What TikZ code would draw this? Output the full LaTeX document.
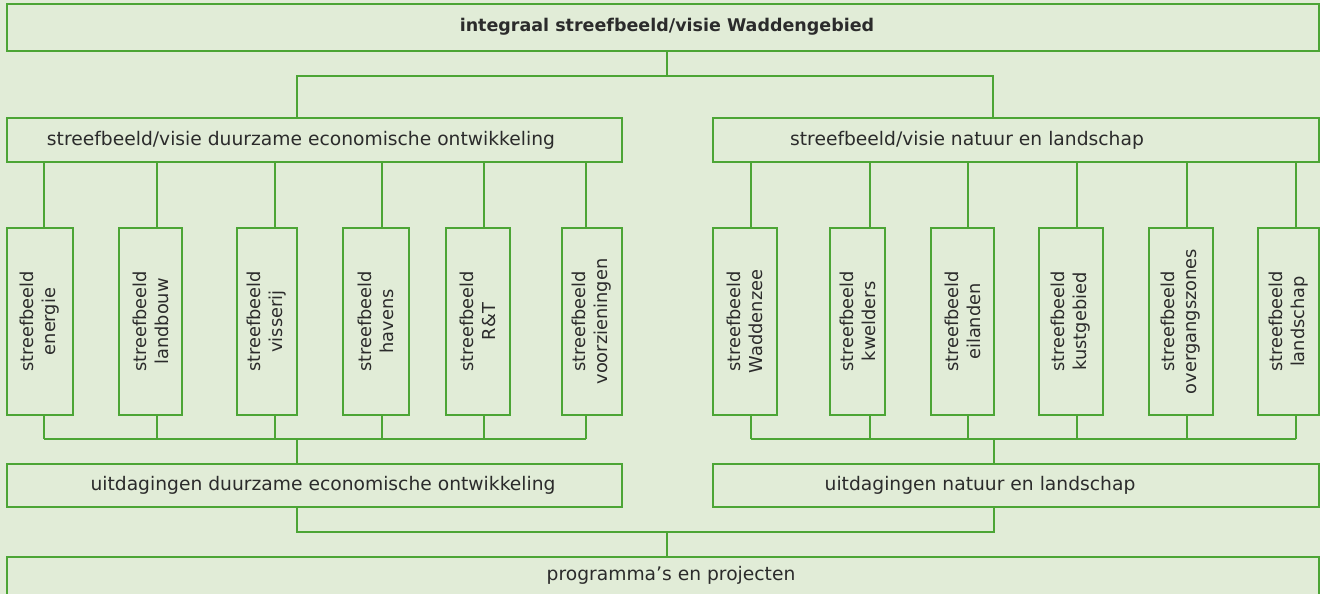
\documentclass[tikz,border=0pt]{standalone}
\usepackage{fontspec}
\setmainfont{DejaVu Sans}
\definecolor{wadgreen}{HTML}{4CA535}
\definecolor{wadbg}{HTML}{E1ECD7}
\definecolor{wadtext}{HTML}{2B2B2B}
\begin{document}
\begin{tikzpicture}[x=1pt,y=-1pt,
	box/.style={draw=wadgreen,line width=2.6pt,inner sep=0pt,outer sep=0pt},
	lbl/.style={text=wadtext,inner sep=0pt,font=\fontsize{18.7}{22.5}\selectfont},
	rot/.style={lbl,rotate=90,align=center,font=\fontsize{17.8}{22}\selectfont},
	conn/.style={wadgreen,line width=2.6pt}]
		%
		\fill[wadbg] (0,0) rectangle (1320,594);
		\useasboundingbox (0,0) rectangle (1320,594);
		%
		\node[box,minimum width=1312pt,minimum height=47pt] (top) at (663,27.5) {};
		\node[box,minimum width=615pt,minimum height=44pt] (eco) at (314.5,140) {};
		\node[box,minimum width=606pt,minimum height=44pt] (nat) at (1016,140) {};
		\node[box,minimum width=615pt,minimum height=43pt] (ueco) at (314.5,485.5) {};
		\node[box,minimum width=606pt,minimum height=43pt] (unat) at (1016,485.5) {};
		\node[box,minimum width=1312pt,minimum height=63pt] (prog) at (663,588.5) {};
		%
		\node[lbl,font=\fontsize{17.5}{20}\selectfont\bfseries] (ttop) at (667,27) {integraal streefbeeld/visie Waddengebied};
		\node[lbl] (teco) at (301,140) {streefbeeld/visie duurzame economische ontwikkeling};
		\node[lbl] (tnat) at (967,140) {streefbeeld/visie natuur en landschap};
		\node[lbl] (tueco) at (323,485.5) {uitdagingen duurzame economische ontwikkeling};
		\node[lbl] (tunat) at (980,485.5) {uitdagingen natuur en landschap};
		\node[lbl] (tprog) at (671,575) {programma’s en projecten};
		%
		\foreach \xa/\xb/\xc/\word [count=\i] in {7/73/44/energie,119/182/157/landbouw,
			237/297/275/visserij,343/409/382/havens,446/510/484/R\&T,562/622/586/voorzieningen}{
			\node[box,minimum width={(\xb-\xa)*1pt},minimum height=187pt] (s\i) at ({(\xa+\xb)/2},321.5) {};
			\node[rot] (ts\i) at (s\i) {streefbeeld\\\word};
			\coordinate (c\i) at (\xc,0);
			\draw[conn] (eco.south -| c\i) -- (s\i.north -| c\i);
			\draw[conn] (s\i.south -| c\i) -- ++(0,24);
		}
		\foreach \xa/\xb/\xc/\word [count=\i from 7] in {713/777/751/Waddenzee,830/885/870/kwelders,
			931/994/968/eilanden,1039/1103/1077/kustgebied,1149/1213/1187/overgangszones,1258/1319/1296/landschap}{
			\node[box,minimum width={(\xb-\xa)*1pt},minimum height=187pt] (s\i) at ({(\xa+\xb)/2},321.5) {};
			\node[rot] (ts\i) at (s\i) {streefbeeld\\\word};
			\coordinate (c\i) at (\xc,0);
			\draw[conn] (nat.south -| c\i) -- (s\i.north -| c\i);
			\draw[conn] (s\i.south -| c\i) -- ++(0,24);
		}
		%
		\coordinate (jt) at (667,76);
		\coordinate (ja) at (297,76);
		\coordinate (jb) at (993,76);
		\draw[conn] (top.south -| jt) -- (jt);
		\draw[conn] (eco.north -| ja) -- (ja) -- (jb) -- (nat.north -| jb);
		%
		\coordinate (la) at (297,439);
		\coordinate (lb) at (994,439);
		\draw[conn] (c1 |- la) -- (c6 |- la);
		\draw[conn] (c7 |- lb) -- (c12 |- lb);
		\draw[conn] (la) -- (ueco.north -| la);
		\draw[conn] (lb) -- (unat.north -| lb);
		%
		\coordinate (ka) at (297,532);
		\coordinate (kb) at (994,532);
		\coordinate (kt) at (667,532);
		\draw[conn] (ueco.south -| ka) -- (ka) -- (kb) -- (unat.south -| kb);
		\draw[conn] (kt) -- (prog.north -| kt);
\end{tikzpicture}
\end{document}
